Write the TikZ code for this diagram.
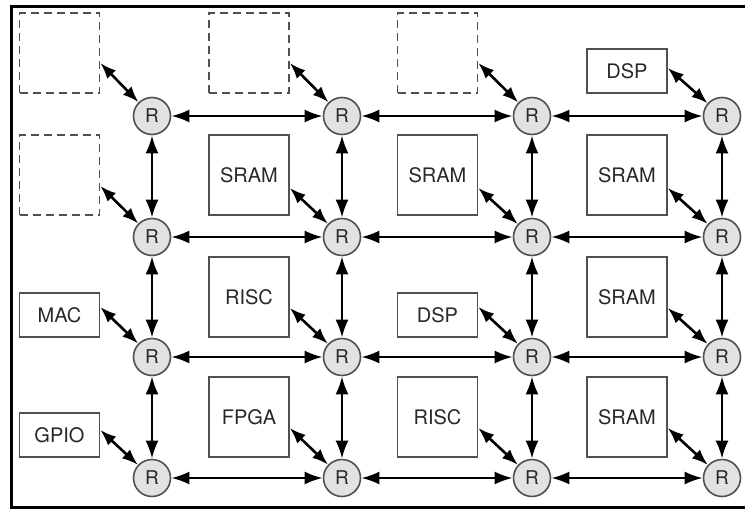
\documentclass[tikz,border=0pt]{standalone}
\usepackage{fontspec}
\setmainfont{TeX Gyre Heros}
\usetikzlibrary{shapes, arrows.meta, positioning}
\definecolor{linegray}{RGB}{80,80,80}
\definecolor{nodefill}{RGB}{226,226,226}
\definecolor{textgray}{RGB}{40,40,40}
\tikzstyle{router} = [draw=linegray, circle, fill=nodefill, line width=1.6pt, minimum size=37pt, inner sep=0pt, text=textgray, font=\fontsize{19}{22}\selectfont]
\tikzstyle{block}  = [draw=linegray, line width=1.6pt, minimum width=80pt, minimum height=80pt, inner sep=0pt, text=textgray, font=\fontsize{20}{24}\selectfont]
\tikzstyle{port}   = [block, minimum height=44pt]
\tikzstyle{slot}   = [block, dash pattern=on 8pt off 5pt]
\tikzstyle{link}   = [draw, line width=2.6pt, {Latex[length=18pt,width=13pt]}-{Latex[length=18pt,width=13pt]}]
\tikzstyle{tap}    = [draw, line width=2.6pt, {Latex[length=16pt,width=12pt]}-{Latex[length=16pt,width=12pt]}]

\begin{document}
\begin{tikzpicture}[x=1pt, y=-1pt]

\useasboundingbox (0,0) rectangle (745,509);
\draw [line width=3.5pt] (746,6.5) -- (11.5,6.5) -- (11.5,507.5) -- (746,507.5);

% routers
\node [router] at (152, 116) (r11) {R};
\node [router] at (342, 116) (r12) {R};
\node [router] at (532, 116) (r13) {R};
\node [router] at (722, 116) (r14) {R};
\node [router] at (152, 237) (r21) {R};
\node [router] at (342, 237) (r22) {R};
\node [router] at (532, 237) (r23) {R};
\node [router] at (722, 237) (r24) {R};
\node [router] at (152, 357) (r31) {R};
\node [router] at (342, 357) (r32) {R};
\node [router] at (532, 357) (r33) {R};
\node [router] at (722, 357) (r34) {R};
\node [router] at (152, 478) (r41) {R};
\node [router] at (342, 478) (r42) {R};
\node [router] at (532, 478) (r43) {R};
\node [router] at (722, 478) (r44) {R};

% cores
\node [slot]  at ( 59.5,  53) (b11) {};
\node [slot]  at (249  ,  53) (b12) {};
\node [slot]  at (437.5,  53) (b13) {};
\node [port]  at (627  ,  71) (b14) {DSP};
\node [slot]  at ( 59.5, 175) (b21) {};
\node [block] at (249  , 175) (b22) {SRAM};
\node [block] at (437.5, 175) (b23) {SRAM};
\node [block] at (627  , 175) (b24) {SRAM};
\node [port]  at ( 59.5, 315) (b31) {MAC};
\node [block] at (249  , 297) (b32) {RISC};
\node [port]  at (437.5, 315) (b33) {DSP};
\node [block] at (627  , 297) (b34) {SRAM};
\node [port]  at ( 59.5, 435) (b41) {GPIO};
\node [block] at (249  , 417) (b42) {FPGA};
\node [block] at (437.5, 417) (b43) {RISC};
\node [block] at (627  , 417) (b44) {SRAM};

% mesh links
\path [link] (r11) edge (r12)  (r12) edge (r13)  (r13) edge (r14)
             (r21) edge (r22)  (r22) edge (r23)  (r23) edge (r24)
             (r31) edge (r32)  (r32) edge (r33)  (r33) edge (r34)
             (r41) edge (r42)  (r42) edge (r43)  (r43) edge (r44)

             (r11) edge (r21)  (r21) edge (r31)  (r31) edge (r41)
             (r12) edge (r22)  (r22) edge (r32)  (r32) edge (r42)
             (r13) edge (r23)  (r23) edge (r33)  (r33) edge (r43)
             (r14) edge (r24)  (r24) edge (r34)  (r34) edge (r44);

% core to router
\draw [tap] ([yshift=-10pt]b11.east) -- (r11);
\draw [tap] ([yshift=-10pt]b12.east) -- (r12);
\draw [tap] ([yshift=-10pt]b13.east) -- (r13);
\draw [tap] ([yshift=3pt]b14.east)   -- (r14);

\draw [tap] ([yshift=-11pt]b21.east) -- (r21);
\draw [tap] ([yshift=-13pt]b22.east) -- (r22);
\draw [tap] ([yshift=-13pt]b23.east) -- (r23);
\draw [tap] ([yshift=-13pt]b24.east) -- (r24);

\draw [tap] ([yshift=8pt]b31.east)   -- (r31);
\draw [tap] ([yshift=-11pt]b32.east) -- (r32);
\draw [tap] ([yshift=8pt]b33.east)   -- (r33);
\draw [tap] ([yshift=-11pt]b34.east) -- (r34);

\draw [tap] ([yshift=5pt]b41.east)   -- (r41);
\draw [tap] ([yshift=-11pt]b42.east) -- (r42);
\draw [tap] ([yshift=-11pt]b43.east) -- (r43);
\draw [tap] ([yshift=-11pt]b44.east) -- (r44);

\end{tikzpicture}
\end{document}
